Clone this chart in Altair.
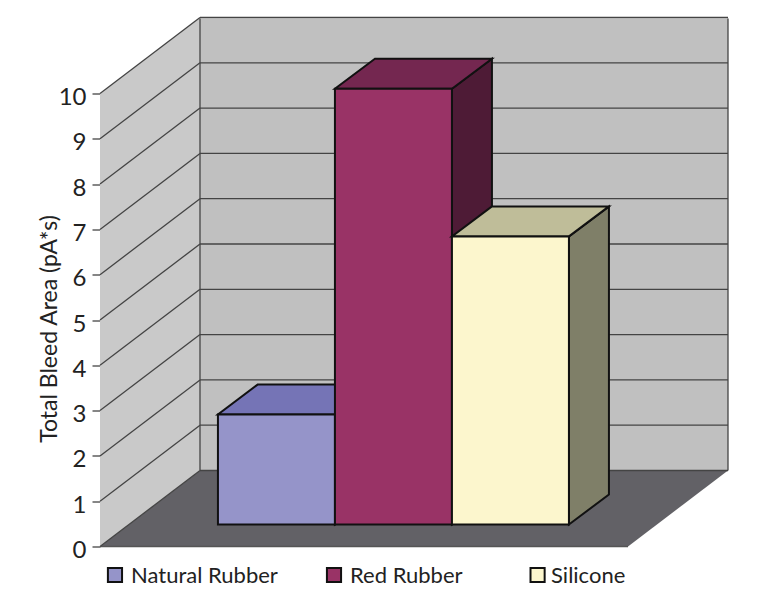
import altair as alt
import pandas as pd

categories = ["Natural Rubber", "Red Rubber", "Silicone"]
values = [2.43, 9.62, 6.36]
front_colors = ["#9594c9", "#993366", "#fcf6cd"]
top_colors = ["#7574b6", "#742750", "#bfbd99"]
side_colors = ["#4c4b66", "#4e1b36", "#7f7f68"]
legend_square_x = [0.128, 2.0, 3.74]
legend_text_x = [0.265, 2.137, 3.855]
y_ticks = list(range(0, 11))

WALL_DX, WALL_DY = 100 / 117, 76 / 45.3   # depth of the chart box
BAR_DX, BAR_DY = 40 / 117, 30 / 45.3      # depth of a bar
BASE = 22 / 45.3                          # bar foot, seen on the floor
BAR_START = 1.008                         # left edge of the first bar
X_MAX, Y_MAX = 628 / 117, 528 / 45.3
Y_MIN = -46 / 45.3                        # room under the floor for the legend
INK = "#111111"
GRID = "#444444"
FONT = "Lato"

YSCALE = alt.Scale(domain=[Y_MIN, Y_MAX], nice=False, zero=False)
X = lambda f="x": alt.X(f"{f}:Q", scale=alt.Scale(domain=[0, X_MAX], nice=False, zero=False), axis=None)
Y = lambda f="y": alt.Y(f"{f}:Q", scale=YSCALE, axis=None)


def vface(x0, x1, lo0, lo1, hi0, hi1, fill, stroke=None, width=0):
    """Parallelogram with vertical left and right edges."""
    df = pd.DataFrame({"x": [x0, x1], "y": [lo0, lo1], "y2": [hi0, hi1]})
    kw = dict(stroke=stroke, strokeWidth=width) if stroke else dict(strokeWidth=0)
    return alt.Chart(df).mark_area(orient="vertical", fill=fill, opacity=1, **kw).encode(
        x=X(), y=Y(), y2="y2:Q")


def hface(y0, y1, l0, r0, l1, r1, fill, stroke=None, width=0):
    """Parallelogram with horizontal top and bottom edges."""
    df = pd.DataFrame({"y": [y0, y1], "x": [l0, l1], "x2": [r0, r1]})
    kw = dict(stroke=stroke, strokeWidth=width) if stroke else dict(strokeWidth=0)
    return alt.Chart(df).mark_area(orient="horizontal", fill=fill, opacity=1, **kw).encode(
        y=Y(), x=X(), x2="x2:Q")


def seg(x0, y0, x1, y1, color=GRID, width=1.3):
    df = pd.DataFrame({"x": [x0, x1], "y": [y0, y1]})
    return alt.Chart(df).mark_line(color=color, strokeWidth=width, clip=False).encode(x=X(), y=Y())


layers = []

# axis carrier
axis_df = pd.DataFrame({"y": y_ticks})
layers.append(
    alt.Chart(axis_df).mark_point(opacity=0).encode(
        y=alt.Y("y:Q", scale=YSCALE,
                axis=alt.Axis(values=y_ticks, title="Total Bleed Area (pA*s)", grid=False, domain=False,
                              tickColor=GRID, tickSize=8, tickWidth=1.3,
                              labelFont=FONT, labelFontSize=24, labelColor="#222222",
                              labelPadding=6, labelOffset=4, format="d",
                              titleFont=FONT, titleFontSize=23, titleFontWeight="normal",
                              titleColor="#222222", titleX=-39, titleY=310, titleAlign="center", titleAnchor="middle",
                              titleAngle=270))))

# floor, walls
layers.append(hface(0, WALL_DY, 0, X_MAX - WALL_DX, WALL_DX, X_MAX, "#626166"))
layers.append(seg(0, 0, X_MAX - WALL_DX, 0, "#555555", 1.5))
layers.append(vface(0, WALL_DX, 0, WALL_DY, 10, 10 + WALL_DY, "#c9c9c9"))
layers.append(vface(WALL_DX, X_MAX, WALL_DY, WALL_DY, Y_MAX, Y_MAX, "#c0c0c0"))

# grid lines
for t in y_ticks:
    layers.append(seg(0, t, WALL_DX, t + WALL_DY))
    layers.append(seg(WALL_DX, t + WALL_DY, X_MAX, t + WALL_DY))
layers.append(seg(WALL_DX, WALL_DY, WALL_DX, Y_MAX))
layers.append(seg(X_MAX, WALL_DY, X_MAX, Y_MAX))

# bars
for i, v in enumerate(values):
    x0, x1 = BAR_START + i, BAR_START + 1 + i
    lo, hi = BASE, BASE + v
    layers.append(vface(x1, x1 + BAR_DX, lo, lo + BAR_DY, hi, hi + BAR_DY, side_colors[i], INK, 2))
    layers.append(hface(hi, hi + BAR_DY, x0, x1, x0 + BAR_DX, x1 + BAR_DX, top_colors[i], INK, 2))
    layers.append(vface(x0, x1, lo, lo, hi, hi, front_colors[i], INK, 2))

# legend
leg = pd.DataFrame({"sx": legend_square_x, "tx": legend_text_x, "name": categories, "c": front_colors})
layers.append(alt.Chart(leg).mark_square(size=200, stroke=INK, strokeWidth=2, opacity=1).encode(
    x=X("sx"), y=alt.value(556.5), fill=alt.Fill("c:N", scale=None)))
layers.append(alt.Chart(leg).mark_text(align="left", baseline="middle", font=FONT,
                                       fontSize=22, color="#222222").encode(
    x=X("tx"), y=alt.value(557.5), text="name:N"))

chart = alt.layer(*layers).resolve_axis(y="independent").properties(
    width=628, height=574,
    padding={"left": 92, "top": 10.5, "right": 24, "bottom": 0},
    autosize=alt.AutoSizeParams(type="none"),
    background="white",
).configure_view(stroke=None)

chart.save("out.html", embed_options={"renderer": "svg", "actions": False})
